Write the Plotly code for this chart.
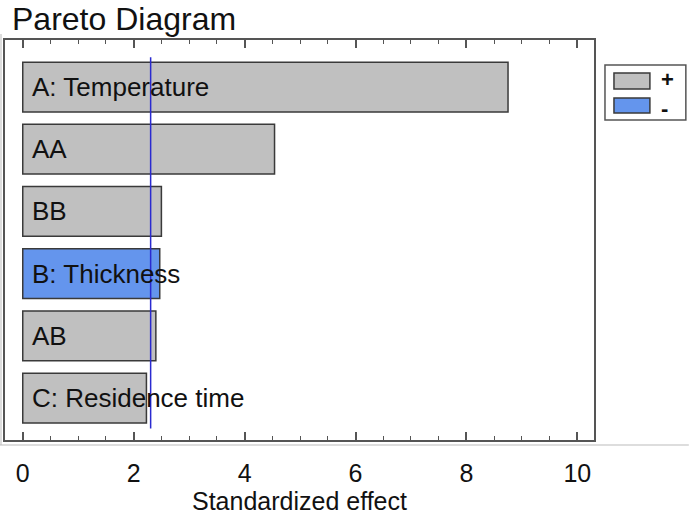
import plotly.graph_objects as go

# ---- data ----
effects = ["A: Temperature", "AA", "BB", "B: Thickness", "AB", "C: Residence time"]
std_effect = [8.75, 4.54, 2.50, 2.47, 2.40, 2.23]
sign = ["+", "+", "+", "-", "+", "+"]
critical_value = 2.306
x_ticks = [0, 2, 4, 6, 8, 10]

FONT = "Liberation Sans, Arial, sans-serif"
GRAY = "#c0c0c0"
BLUE = "#6495ed"
EDGE = "#3a3a3a"
FRAME = "#555555"

pos = list(range(len(effects)))
colors = [GRAY if s == "+" else BLUE for s in sign]

fig = go.Figure()
fig.add_trace(go.Bar(
    y=pos, x=std_effect, orientation="h", width=0.8,
    marker=dict(color=colors, line=dict(color=EDGE, width=1.5)),
    showlegend=False, hoverinfo="x",
))
fig.add_trace(go.Scatter(
    x=[critical_value, critical_value], y=[-0.48, 5.49], mode="lines",
    line=dict(color="#2a2ad0", width=1.5), showlegend=False, hoverinfo="skip",
))

annotations = []
for p, name in zip(pos, effects):
    annotations.append(dict(x=0, y=p, xref="x", yref="y", text=name, showarrow=False,
                            xanchor="left", yanchor="middle", xshift=7, yshift=0,
                            font=dict(family=FONT, size=26, color="#111")))

# axis title
annotations.append(dict(x=0.5, y=-0.153, xref="paper", yref="paper", text="Standardized effect",
                        showarrow=False, xanchor="center", yanchor="middle",
                        font=dict(family=FONT, size=25, color="#111")))

# manual legend (paper coordinates, plot area 590x400 px)
def px_x(px):
    return (px - 5) / 590.0

def px_y(py):
    return (440 - py) / 400.0

shapes = [
    dict(type="rect", xref="paper", yref="paper", x0=px_x(606), x1=px_x(687), y0=px_y(120), y1=px_y(65),
         line=dict(color=FRAME, width=1.5), fillcolor="white"),
    dict(type="rect", xref="paper", yref="paper", x0=px_x(615), x1=px_x(651), y0=px_y(89), y1=px_y(73),
         line=dict(color=EDGE, width=1.5), fillcolor=GRAY),
    dict(type="rect", xref="paper", yref="paper", x0=px_x(615), x1=px_x(651), y0=px_y(113), y1=px_y(98),
         line=dict(color=EDGE, width=1.5), fillcolor=BLUE),
    # faint outer border lines of the original picture
    dict(type="line", xref="paper", yref="paper", x0=px_x(0), x1=px_x(690), y0=px_y(445), y1=px_y(445),
         line=dict(color="#bbbbbb", width=1)),
    dict(type="line", xref="paper", yref="paper", x0=px_x(1), x1=px_x(1), y0=px_y(445), y1=px_y(34),
         line=dict(color="#bbbbbb", width=1)),
]
annotations.append(dict(x=px_x(669), y=px_y(79), xref="paper", yref="paper", text="<b>+</b>",
                        showarrow=False, xanchor="center", yanchor="middle", borderpad=0,
                        font=dict(family=FONT, size=22, color="#111")))
annotations.append(dict(x=px_x(666), y=px_y(108), xref="paper", yref="paper", text="<b>-</b>",
                        showarrow=False, xanchor="center", yanchor="middle", borderpad=0,
                        font=dict(family=FONT, size=22, color="#111")))

fig.update_layout(
    width=690, height=517,
    margin=dict(l=5, r=96, t=40, b=77),
    paper_bgcolor="white", plot_bgcolor="white",
    title=dict(text="Pareto Diagram", x=12 / 690, xanchor="left", xref="container",
               y=1 - 19 / 517, yanchor="middle", yref="container",
               font=dict(family=FONT, size=32, color="#111")),
    xaxis=dict(range=[-0.32, 10.30], tickvals=x_ticks, ticktext=[str(v) for v in x_ticks],
               ticks="inside", ticklen=8, tickwidth=1.5, tickcolor=FRAME,
               minor=dict(ticks="inside", dtick=0.5, tick0=0, ticklen=4, tickwidth=1, tickcolor=FRAME),
               showline=True, linecolor=FRAME, linewidth=2, mirror="ticks",
               showgrid=False, zeroline=False, ticklabelstandoff=10,
               tickfont=dict(family=FONT, size=25, color="#111")),
    yaxis=dict(range=[5.675, -0.756], showticklabels=False, ticks="", showgrid=False,
               zeroline=False, showline=True, linecolor=FRAME, linewidth=2, mirror=True),
    shapes=shapes,
    annotations=annotations,
    bargap=0.2,
)

fig.write_html("out.html")
